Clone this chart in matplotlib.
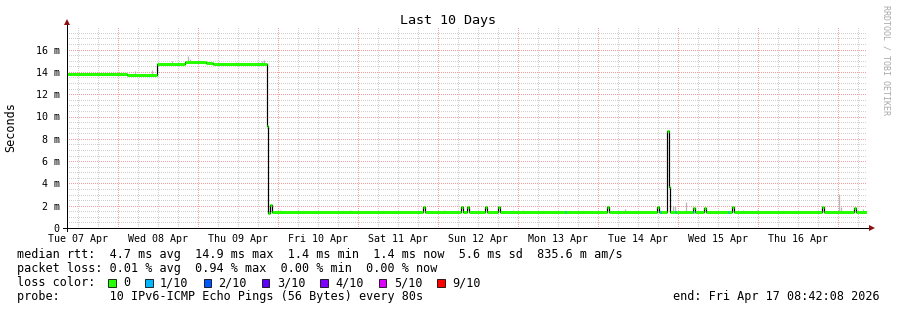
import matplotlib
matplotlib.use("Agg")
import matplotlib.pyplot as plt
from matplotlib.patches import Rectangle
from datetime import datetime, timedelta

# ---------------- data ----------------
start = datetime(2026, 4, 7, 8, 42, 8)
span_h = 240.0

# median rtt step changes: hours since start -> ms
med_t = [0, 18, 27.1, 35.4, 41.7, 43.8, 59.9, 60.4, 60.9, 61.4,
         106.9, 107.5, 118.2, 118.8, 120.1, 120.7, 125.5, 126.1, 129.4, 130.0,
         161.9, 162.5, 176.9, 177.5, 179.9, 180.7, 181.0, 187.9, 188.5,
         191.2, 191.8, 199.4, 200.0, 226.4, 227.0, 236.1, 236.7, 240]
med_v = [13.8, 13.75, 14.7, 14.9, 14.8, 14.7, 9.15, 1.35, 2.1, 1.4,
         1.85, 1.4, 1.85, 1.4, 1.9, 1.4, 1.85, 1.4, 1.85, 1.4,
         1.85, 1.4, 1.85, 1.4, 8.7, 3.7, 1.4, 1.8, 1.4,
         1.8, 1.4, 1.85, 1.4, 1.85, 1.4, 1.8, 1.4, 1.4]

# spots with 1/10 packet loss (hours since start)
loss1_t = [149.4, 177.9, 182.4, 187.7, 198.3]
loss1_v = [1.4, 1.4, 1.4, 1.4, 1.4]

# smoke (ping spread) bars
smoke_t = [20.4, 25.5, 31.5, 36.3, 36.9, 40.8, 50.7, 58.5, 59.1,
           63.9, 69.3, 83.1, 84.9, 113.1, 133.8, 136.8, 167.4, 181.8,
           182.4, 185.7, 202.8, 207.0, 231.6, 232.2, 238.8]
smoke_lo = [13.7, 13.7, 14.7, 14.9, 14.9, 14.9, 14.7, 14.7, 14.7,
            1.4, 1.4, 1.4, 1.4, 1.4, 1.4, 1.4, 1.4, 1.4,
            1.4, 1.4, 1.4, 1.4, 1.4, 1.4, 1.4]
smoke_hi = [14.1, 14.2, 15.0, 15.4, 15.2, 15.0, 14.9, 15.0, 15.1,
            1.6, 1.6, 1.55, 1.6, 1.65, 1.6, 1.6, 1.7, 2.0,
            2.0, 2.3, 1.6, 1.6, 3.05, 1.9, 1.7]

y_ticks = [0, 2, 4, 6, 8, 10, 12, 14, 16]
y_labels = ["0", "2 m", "4 m", "6 m", "8 m", "10 m", "12 m", "14 m", "16 m"]
day_labels = ["Tue 07 Apr", "Wed 08 Apr", "Thu 09 Apr", "Fri 10 Apr", "Sat 11 Apr",
              "Sun 12 Apr", "Mon 13 Apr", "Tue 14 Apr", "Wed 15 Apr", "Thu 16 Apr"]

loss_colors = ["#26ff00", "#00b8ff", "#0059ff", "#5e00ff", "#7e00ff", "#dd00ff", "#ff0000"]
loss_labels = ["0", "1/10", "2/10", "3/10", "4/10", "5/10", "9/10"]

title = "Last 10 Days"
line1 = "median rtt:  4.7 ms avg  14.9 ms max  1.4 ms min  1.4 ms now  5.6 ms sd  835.6 m am/s"
line2 = "packet loss: 0.01 % avg  0.94 % max  0.00 % min  0.00 % now"
line3 = "loss color:"
line4 = "probe:       10 IPv6-ICMP Echo Pings (56 Bytes) every 80s"
end_text = "end: Fri Apr 17 08:42:08 2026"

# ---------------- layout ----------------
W, H, DPI = 897, 310, 100
PX = 72.0 / DPI
MONO = "DejaVu Sans Mono"
plt.rcParams["font.family"] = [MONO]

fig = plt.figure(figsize=(W / DPI, H / DPI), dpi=DPI, facecolor="white")
ax_l, ax_r, ax_b, ax_t = 67, 867, 228, 27.3
ax = fig.add_axes([ax_l / W, (H - ax_b) / H, (ax_r - ax_l) / W, (ax_b - ax_t) / H])
ax.set_xlim(0, span_h)
ax.set_ylim(0, 18)
for s in ax.spines.values():
    s.set_visible(False)

def hrs(dt):
    return (dt - start).total_seconds() / 3600.0

# grid (1px on / 1px off dotted)
grid_grey = "#d0d0d0"
grid_red = "#f4a0a0"
dot = (0.5, (1, 1))
t = datetime(2026, 4, 7, 12)
while hrs(t) < span_h:
    h = hrs(t)
    major = (t.hour == 0)
    ax.axvline(h, color=grid_red if major else grid_grey, lw=PX, ls=dot,
               zorder=1 if major else 0.5, snap=True)
    t += timedelta(hours=6)
for k in range(1, 36):
    v = k * 0.5
    major = (k % 4 == 0)
    ax.axhline(v, color=grid_red if major else grid_grey, lw=PX, ls=dot,
               zorder=1 if major else 0.5, snap=True)

# smoke
ax.vlines(smoke_t, smoke_lo, smoke_hi, color="#b8b8b8", lw=1.3 * PX, zorder=2)

# median black line
ax.step(med_t, med_v, where="post", color="#000000", lw=1.2 * PX, zorder=3)
# coloured (loss 0) median segments
for i in range(len(med_t) - 1):
    ax.hlines(med_v[i], med_t[i], med_t[i + 1], color=loss_colors[0], lw=3 * PX,
              zorder=4, capstyle="butt")
# loss 1/10 spots
for tt, vv in zip(loss1_t, loss1_v):
    ax.hlines(vv, tt, tt + 0.35, color=loss_colors[1], lw=3 * PX, zorder=5, capstyle="butt")

# ticks
ax.set_yticks(y_ticks)
ax.set_yticklabels(y_labels)
day_pos = [hrs(datetime(2026, 4, 7 + i, 12)) for i in range(len(day_labels))]
ax.set_xticks(day_pos)
ax.set_xticklabels(day_labels)
ax.tick_params(axis="both", length=0, labelsize=7.2, colors="#000000")
ax.tick_params(axis="y", pad=5.2)
ax.tick_params(axis="x", pad=4.6)

# axis lines with arrows
ax.plot([0, 0], [-0.27, 18.3], color="#000000", lw=PX, clip_on=False, zorder=6)
ax.plot([-1.2, 241.0], [0, 0], color="#000000", lw=PX, clip_on=False, zorder=6)
ax.plot([0], [18.45], marker="^", ms=4.5, color="#8b1010", clip_on=False, zorder=7, mew=0)
ax.plot([241.6], [0], marker=">", ms=4.5, color="#8b1010", clip_on=False, zorder=7, mew=0)

# ---------------- text ----------------
def fx(x):
    return x / W

def fy(y):
    return (H - y) / H

fig.text(fx(448), fy(24), title, ha="center", va="baseline", fontsize=9.6, color="#000000")
fig.text(fx(11), fy(127.5), "Seconds", ha="center", va="center", rotation=90, fontsize=8.5)
fig.text(fx(886), fy(60), "RRDTOOL / TOBI OETIKER", ha="center", va="center", rotation=270,
         fontsize=6, color="#a8a8a8")

x0 = 16.5
cw = 0.602 * 8.5 / PX
fig.text(fx(x0), fy(258), line1, ha="left", va="baseline", fontsize=8.5)
fig.text(fx(x0), fy(272), line2, ha="left", va="baseline", fontsize=8.5)
fig.text(fx(x0), fy(286), line3, ha="left", va="baseline", fontsize=8.5)
fig.text(fx(x0), fy(300), line4, ha="left", va="baseline", fontsize=8.5)
fig.text(fx(880), fy(300), end_text, ha="right", va="baseline", fontsize=8.5)

xs = 108.0
for col, lab in zip(loss_colors, loss_labels):
    fig.patches.append(Rectangle((fx(xs), fy(286.5)), 7.5 / W, 7.5 / H, transform=fig.transFigure,
                                 facecolor=col, edgecolor="#000000", lw=0.8 * PX))
    fig.text(fx(xs + 15), fy(286), lab, ha="left", va="baseline", fontsize=8.5)
    xs = xs + 15 + len(lab) * cw + 15

fig.savefig("out.png", dpi=DPI, facecolor="white")
